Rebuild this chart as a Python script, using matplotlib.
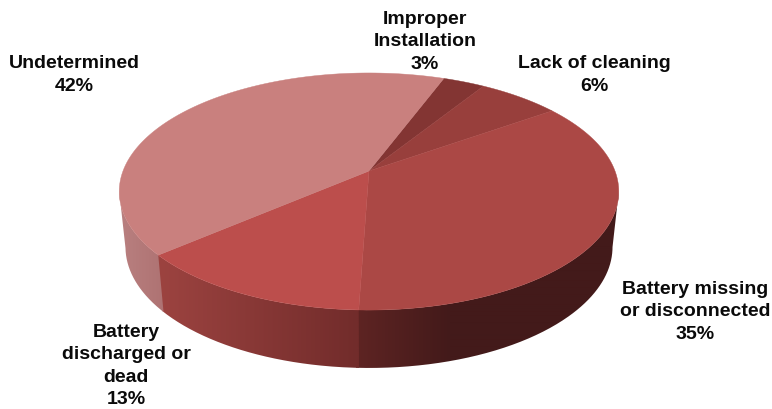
import numpy as np
import matplotlib
matplotlib.use("Agg")
import matplotlib.pyplot as plt
from matplotlib.path import Path
from matplotlib.patches import PathPatch
from matplotlib.colors import to_rgb

# values, clockwise from the top (unrounded estimates, the labels show rounded ones)
labels = ["Improper\nInstallation\n3%", "Lack of cleaning\n6%", "Battery missing\nor disconnected\n35%",
          "Battery\ndischarged or\ndead\n13%", "Undetermined\n42%"]
values = [3.2, 6.3, 35.3, 13.2, 42.0]
label_x = [425, 594, 695, 126, 74]
label_y = [42, 75, 312, 366, 75]

top_colors = ["#833533", "#983F3C", "#AB4845", "#BC4E4C", "#C9807E"]
# wall shade for each slice by horizontal position: (x, colour) stops
wall_x = [None, None, [357, 450, 620], [160, 357], [119, 165]]
wall_colors = [None, None, ["#5E2423", "#431A1A", "#431A1A"],
               ["#9C4340", "#722C2B"], ["#B98080", "#AE7272"]]

start_angle = 69.3
cx, cy = 369, 171
R, S, p = 246, 115, 0.173
D, q = 55, 0.05
shrink = 0.025


def project(theta, wall=False):
    u, v = np.cos(theta), np.sin(theta)
    w = 1 + p * v
    if wall:
        return cx + R * u / w * (1 - shrink), cy - S * v / w + D / (1 + q * v)
    return cx + R * u / w, cy - S * v / w


fig = plt.figure(figsize=(7.72, 4.09), dpi=100)
ax = fig.add_axes([0, 0, 1, 1])
ax.axis("off")

xs = np.arange(100, 641)
angle = start_angle
for val, wx, wc in zip(values, wall_x, wall_colors):
    end = angle - val / sum(values) * 360
    # side wall, gradient image clipped to the slice, only the part below the tangents
    if wx is not None:
        t = np.radians(np.linspace(min(angle, -10), max(end - 0.6, -170), 200))
        x0, y0 = project(t)
        x1, y1 = project(t, wall=True)
        verts = np.c_[np.r_[x0, x1[::-1]], np.r_[y0, y1[::-1]]]
        patch = PathPatch(Path(np.r_[verts, verts[:1]]), fc="none", ec="none", transform=ax.transData)
        ax.add_patch(patch)
        rgb = np.array([to_rgb(c) for c in wc])
        grad = np.stack([np.interp(xs, wx, rgb[:, i]) for i in range(3)], axis=-1)[None, :, :]
        im = ax.imshow(grad, extent=(100, 641, 390, 170), aspect="auto", zorder=1, interpolation="bilinear")
        im.set_clip_path(patch)
    angle = end

angle = start_angle
for val, col in zip(values, top_colors):
    end = angle - val / sum(values) * 360
    t = np.radians(np.linspace(angle, end, 120))
    x, y = project(t)
    ax.fill(np.r_[cx, x], np.r_[cy, y], color=col, lw=0.3, zorder=2)
    angle = end

for txt, x, y in zip(labels, label_x, label_y):
    ax.text(x, y, txt, ha="center", va="center", fontsize=14, fontweight="bold",
            family="Liberation Sans", color="#0a0a0a", linespacing=1.41)

ax.set_xlim(0, 772)
ax.set_ylim(409, 0)
fig.savefig("out.png", dpi=100)
